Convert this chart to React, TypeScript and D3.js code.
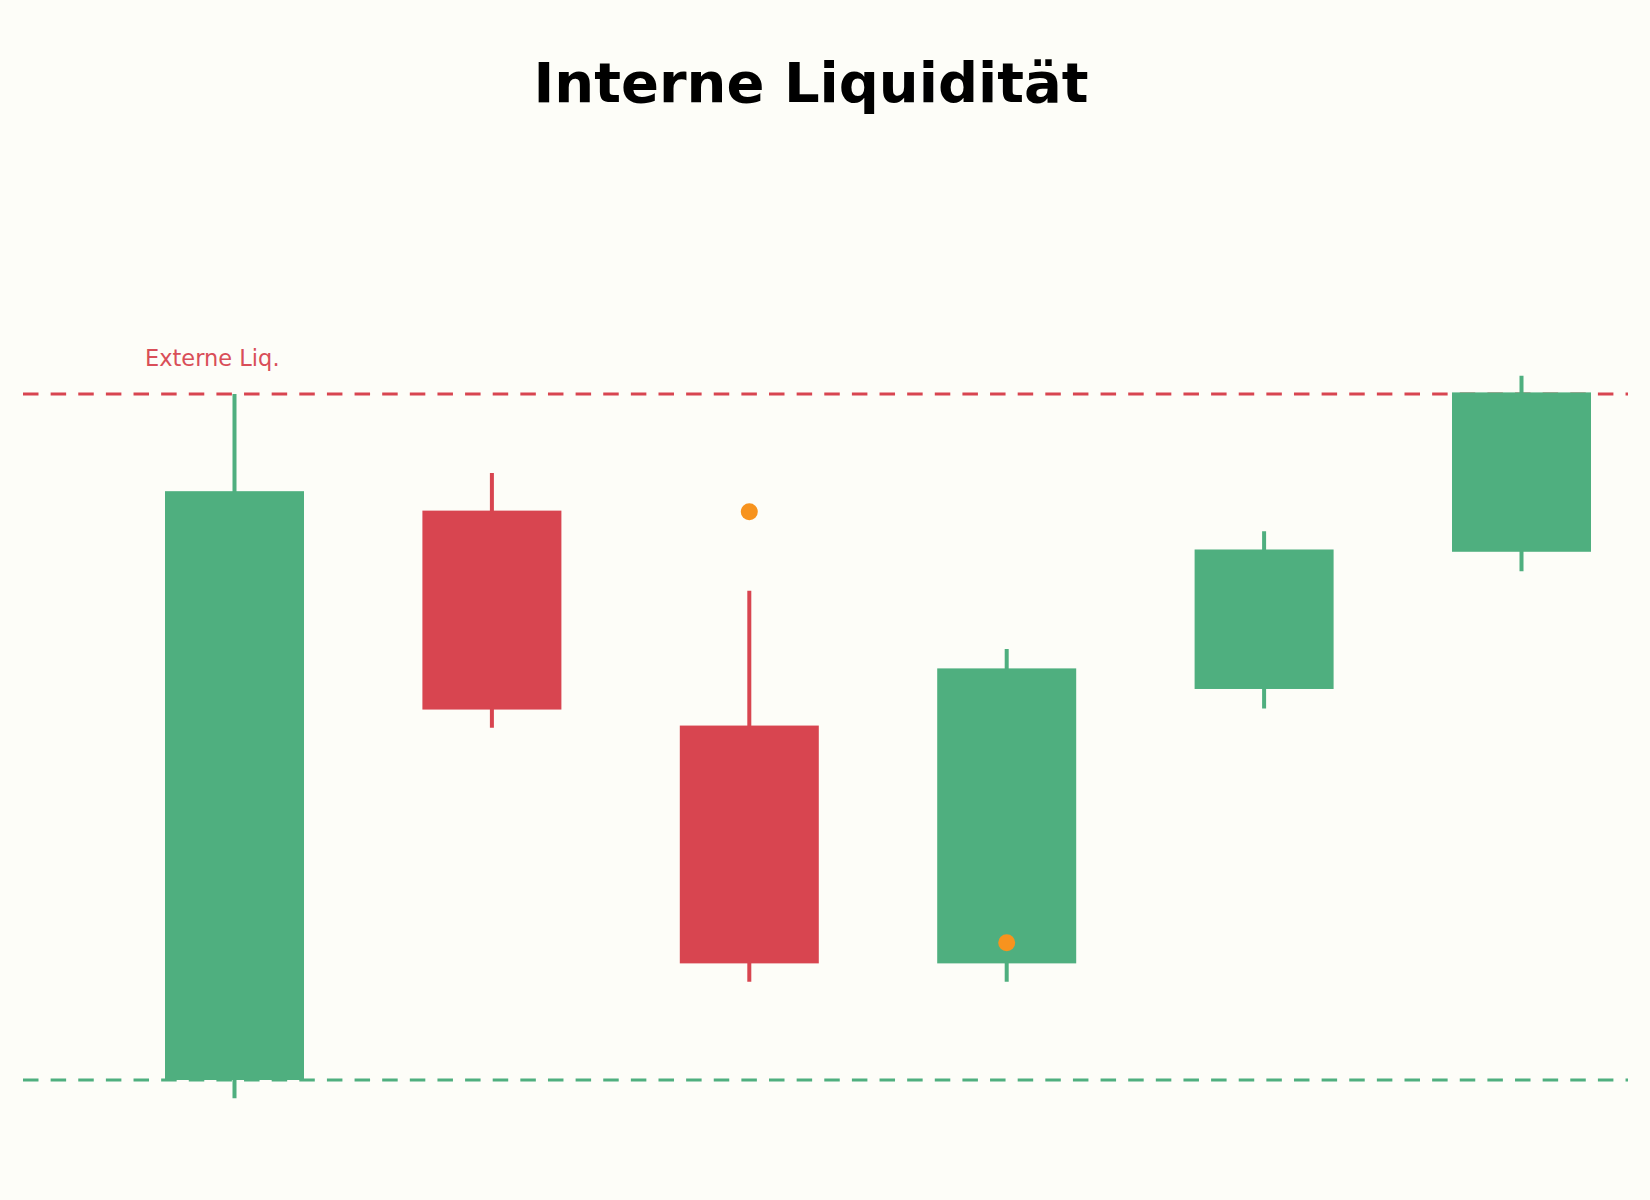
import React, { useEffect, useRef } from 'react';
import * as d3 from 'd3';

// candle data (arbitrary price units)
const candleIds = [0, 1, 2, 3, 4, 5];
const opens = [100, 124.9, 115.5, 105.1, 117.1, 123.1];
const closes = [125.75, 116.2, 105.1, 118.0, 123.2, 130.07];
const highs = [130, 126.55, 121.4, 118.85, 124.0, 130.8];
const lows = [99.2, 115.4, 104.3, 104.3, 116.25, 122.25];

// orange markers
const markerIds = [2, 3];
const markerValues = [124.85, 106.0];

// liquidity levels
const externalLevel = 130;
const internalLevel = 100;

const title = 'Interne Liquidität';
const externalLabel = 'Externe Liq.';

const W = 1650;
const H = 1200;
const GREEN = '#4faf7f';
const RED = '#d84550';
const ORANGE = '#f7931e';
const BG = '#fdfdf8';
const FONT = '"DejaVu Sans", Verdana, sans-serif';

const App: React.FC = () => {
  const svgRef = useRef<SVGSVGElement>(null);

  useEffect(() => {
    if (!svgRef.current) return;
    const svg = d3.select(svgRef.current);
    svg.selectAll('*').remove();

    const x = d3.scaleLinear().domain([0, 5]).range([234.5, 1521.5]);
    const y = d3.scaleLinear().domain([internalLevel, externalLevel]).range([1080, 394]);
    const bodyW = (x(1) - x(0)) * 0.54;

    svg.append('rect').attr('width', W).attr('height', H).attr('fill', BG);

    // title
    svg.append('text')
      .attr('x', 811)
      .attr('y', 101.5)
      .attr('text-anchor', 'middle')
      .attr('font-family', FONT)
      .attr('font-weight', 'bold')
      .attr('font-size', 56)
      .attr('fill', '#000')
      .text(title);

    // liquidity levels (behind the candles)
    const levels = [
      { v: externalLevel, c: RED },
      { v: internalLevel, c: GREEN },
    ];
    svg.append('g').selectAll('line')
      .data(levels)
      .enter()
      .append('line')
      .attr('x1', 23)
      .attr('x2', 1628)
      .attr('y1', d => y(d.v))
      .attr('y2', d => y(d.v))
      .attr('stroke', d => d.c)
      .attr('stroke-width', 3)
      .attr('stroke-dasharray', '15.5 12.13');

    svg.append('text')
      .attr('x', 145)
      .attr('y', y(externalLevel) - 28)
      .attr('font-family', FONT)
      .attr('font-size', 22.5)
      .attr('fill', RED)
      .attr('opacity', 0.95)
      .text(externalLabel);

    const data = candleIds.map((id, i) => ({
      id, open: opens[i], close: closes[i], high: highs[i], low: lows[i],
    }));
    const color = (d: typeof data[0]) => (d.close >= d.open ? GREEN : RED);

    // wicks
    svg.append('g').selectAll('line')
      .data(data)
      .enter()
      .append('line')
      .attr('x1', d => x(d.id))
      .attr('x2', d => x(d.id))
      .attr('y1', d => y(d.high))
      .attr('y2', d => y(d.low))
      .attr('stroke', color)
      .attr('stroke-width', 4);

    // bodies
    svg.append('g').selectAll('rect')
      .data(data)
      .enter()
      .append('rect')
      .attr('x', d => x(d.id) - bodyW / 2)
      .attr('width', bodyW)
      .attr('y', d => y(Math.max(d.open, d.close)))
      .attr('height', d => Math.abs(y(d.open) - y(d.close)))
      .attr('fill', color);

    // markers
    svg.append('g').selectAll('circle')
      .data(markerIds.map((id, i) => ({ id, v: markerValues[i] })))
      .enter()
      .append('circle')
      .attr('cx', d => x(d.id))
      .attr('cy', d => y(d.v))
      .attr('r', 8.5)
      .attr('fill', ORANGE);
  }, []);

  return (
    <div style={{ width: W, height: H }}>
      <style>{`html,body{margin:0;padding:0;background:${BG};overflow:hidden}`}</style>
      <svg ref={svgRef} width={W} height={H} style={{ display: 'block' }}></svg>
    </div>
  );
};

export default App;
